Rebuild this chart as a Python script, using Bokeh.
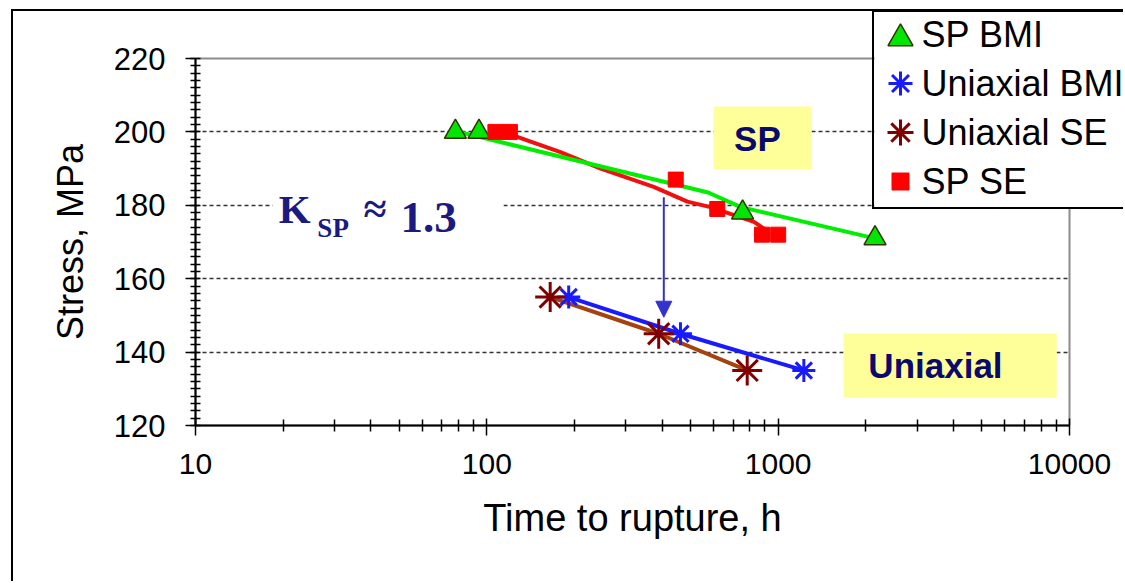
from bokeh.plotting import figure
from bokeh.models import (FixedTicker, NumeralTickFormatter, BoxAnnotation, Label,
                          Arrow, NormalHead, Range1d)
from bokeh.core.properties import value
from bokeh.embed import file_html
from bokeh.resources import INLINE

# Creep tests: time to rupture (h) versus stress (MPa)
sp_bmi_time = [78, 94, 755, 2150]
sp_bmi_stress = [200, 200, 178, 171]
sp_bmi_fit_time = [80, 575, 745, 2150]
sp_bmi_fit_stress = [200, 183.5, 179.5, 171]

sp_se_time = [107, 120, 445, 618, 880, 1000]
sp_se_stress = [200, 200, 187, 179, 172, 172]
sp_se_fit_time = [114, 179, 246, 374, 488, 586, 826, 918]
sp_se_fit_stress = [200, 194.5, 190, 185, 181, 179.5, 175.5, 173]

uni_bmi_time = [191, 462, 1225]
uni_bmi_stress = [155, 145, 135]

uni_se_time = [165, 389, 783]
uni_se_stress = [155, 145, 135]

series_labels = ["SP BMI", "Uniaxial BMI", "Uniaxial SE", "SP SE"]
x_ticks = [10, 100, 1000, 10000]
y_ticks = [120, 140, 160, 180, 200, 220]
grid_levels = [140, 160, 180, 200]

FONT = "Liberation Sans"
SERIF = "Liberation Serif"
NAVY = "#0a0a6e"
KCOL = "#1a1a80"

STYLES = {
    "sp_bmi": dict(marker="triangle", fill_color="#00e600",
                   line_color="#333300", line_width=1.5),
    "sp_se": dict(marker="square", fill_color="#ff0000", line_color="#ff0000"),
    "uni_bmi": dict(marker="asterisk", line_color="#1a1aff", line_width=3),
    "uni_se": dict(marker="asterisk", line_color="#800000", line_width=3),
}

p = figure(width=1112, height=572, x_axis_type="log",
           x_range=Range1d(10, 10000), y_range=Range1d(120, 220),
           output_backend="svg", toolbar_location=None,
           min_border_left=182, min_border_right=56,
           min_border_top=47, min_border_bottom=158)
p.styles = {"margin-left": "11px", "margin-top": "9px",
            "border-left": "2px solid #000", "border-top": "2px solid #000"}
p.background_fill_color = "white"
p.border_fill_color = "white"
p.outline_line_color = "#8c8c8c"
p.outline_line_width = 2

# axes
xa, ya = p.xaxis[0], p.yaxis[0]
xa.ticker = FixedTicker(ticks=x_ticks,
                        minor_ticks=[m * 10 ** e for e in range(1, 4) for m in range(2, 10)])
xa.formatter = NumeralTickFormatter(format="0")
ya.ticker = FixedTicker(ticks=y_ticks, minor_ticks=list(range(120, 221, 2)))
for ax in (xa, ya):
    ax.axis_line_color = "black"
    ax.axis_line_width = 2
    ax.major_tick_line_color = "black"
    ax.major_tick_line_width = 1.5
    ax.minor_tick_line_color = "black"
    ax.minor_tick_line_width = 1.5
    ax.major_label_text_font = FONT
    ax.major_label_text_color = "black"
    ax.axis_label_text_font = FONT
    ax.axis_label_text_font_style = "normal"
    ax.axis_label_text_color = "black"
xa.axis_label = "Time to rupture, h"
ya.axis_label = "Stress, MPa"
xa.axis_label_text_font_size = "38px"
ya.axis_label_text_font_size = "36px"
xa.major_label_text_font_size = "30px"
ya.major_label_text_font_size = "31px"
xa.major_tick_in, xa.major_tick_out = 7, 10
xa.minor_tick_in, xa.minor_tick_out = 6, 6
ya.major_tick_in, ya.major_tick_out = 0, 10
ya.minor_tick_in, ya.minor_tick_out = 5, 5
xa.major_label_standoff = 18
ya.major_label_standoff = 20
xa.axis_label_standoff = 20
ya.axis_label_standoff = 20

p.xgrid.visible = False
p.ygrid.ticker = FixedTicker(ticks=grid_levels)
p.ygrid.grid_line_color = "#333333"
p.ygrid.grid_line_dash = "4 3"
p.ygrid.grid_line_width = 1.5

# trend lines
p.line(sp_se_fit_time, sp_se_fit_stress, line_color="#f01010", line_width=4)
p.line(sp_bmi_fit_time, sp_bmi_fit_stress, line_color="#00ee00", line_width=4)
p.line(uni_bmi_time, uni_bmi_stress, line_color="#1a1aff", line_width=4)
p.line(uni_se_time, uni_se_stress, line_color="#a5420f", line_width=4)

# markers
p.scatter(sp_bmi_time, sp_bmi_stress, size=22, **STYLES["sp_bmi"])
p.scatter(sp_se_time, sp_se_stress, size=15, **STYLES["sp_se"])
p.scatter(uni_bmi_time, uni_bmi_stress, size=23, **STYLES["uni_bmi"])
p.scatter(uni_se_time, uni_se_stress, size=30, **STYLES["uni_se"])

# highlighted captions
p.add_layout(BoxAnnotation(left=600, right=1303, bottom=189.8, top=206.9,
                           fill_color="#ffff99", fill_alpha=1, line_color=None))
p.add_layout(BoxAnnotation(left=1677, right=9040, bottom=127.6, top=145.1,
                           fill_color="#ffff99", fill_alpha=1, line_color=None))
p.add_layout(BoxAnnotation(left=18.4, right=114, bottom=170.4, top=184,
                           fill_color="white", fill_alpha=1, line_color=None))
p.add_layout(Label(x=849, y=192.9, text="SP", text_align="center",
                   text_font=FONT, text_font_style="bold", text_font_size="35px",
                   text_color=NAVY))
p.add_layout(Label(x=3467, y=130.9, text="Uniaxial", text_align="center",
                   text_font=FONT, text_font_style="bold", text_font_size="35px",
                   text_color=NAVY))

# K_SP ratio annotation
for x, y, txt, size in [(19.3, 172.6, "K", "41px"), (26.2, 169.8, "SP", "27px"),
                        (37.7, 172.6, "\u2248", "42px"), (50.5, 172.6, "1.3", "45px")]:
    p.add_layout(Label(x=x, y=y, text=txt,
                       text_font=SERIF, text_font_style="bold",
                       text_font_size=size, text_color=KCOL))

p.add_layout(Arrow(end=NormalHead(size=16, fill_color="#3333cc", line_color="#3333cc"),
                   x_start=405, y_start=182.2, x_end=405, y_end=149.5,
                   line_color="#3333cc", line_width=2))

# legend panel over the top-right corner: one row per series
rows = list(range(len(series_labels)))
lg = figure(width=251, height=199, x_range=Range1d(0, 251), y_range=Range1d(3.612, -0.449),
            x_axis_location=None, y_axis_location=None,
            output_backend="svg", toolbar_location=None, min_border=0)
lg.styles = {"position": "absolute", "left": "872px", "top": "10px",
             "border-left": "2px solid #000", "border-top": "2px solid #000",
             "border-bottom": "2px solid #000"}
lg.grid.visible = False
lg.outline_line_color = None
lg.background_fill_color = "white"
lg.border_fill_color = "white"
lg.scatter(x=[26], y=[rows[0] + 0.08], size=25, **STYLES["sp_bmi"])
lg.scatter(x=[26], y=[rows[1]], size=24, **STYLES["uni_bmi"])
lg.scatter(x=[26], y=[rows[2]], size=26, **STYLES["uni_se"])
lg.scatter(x=[26], y=[rows[3]], size=17, **STYLES["sp_se"])
lg.text(x=[47] * len(rows), y=rows, text=series_labels, text_baseline="middle",
        text_font=value(FONT), text_font_size=value("36px"), text_color="black")

open("out.html", "w").write(file_html([p, lg], INLINE))
